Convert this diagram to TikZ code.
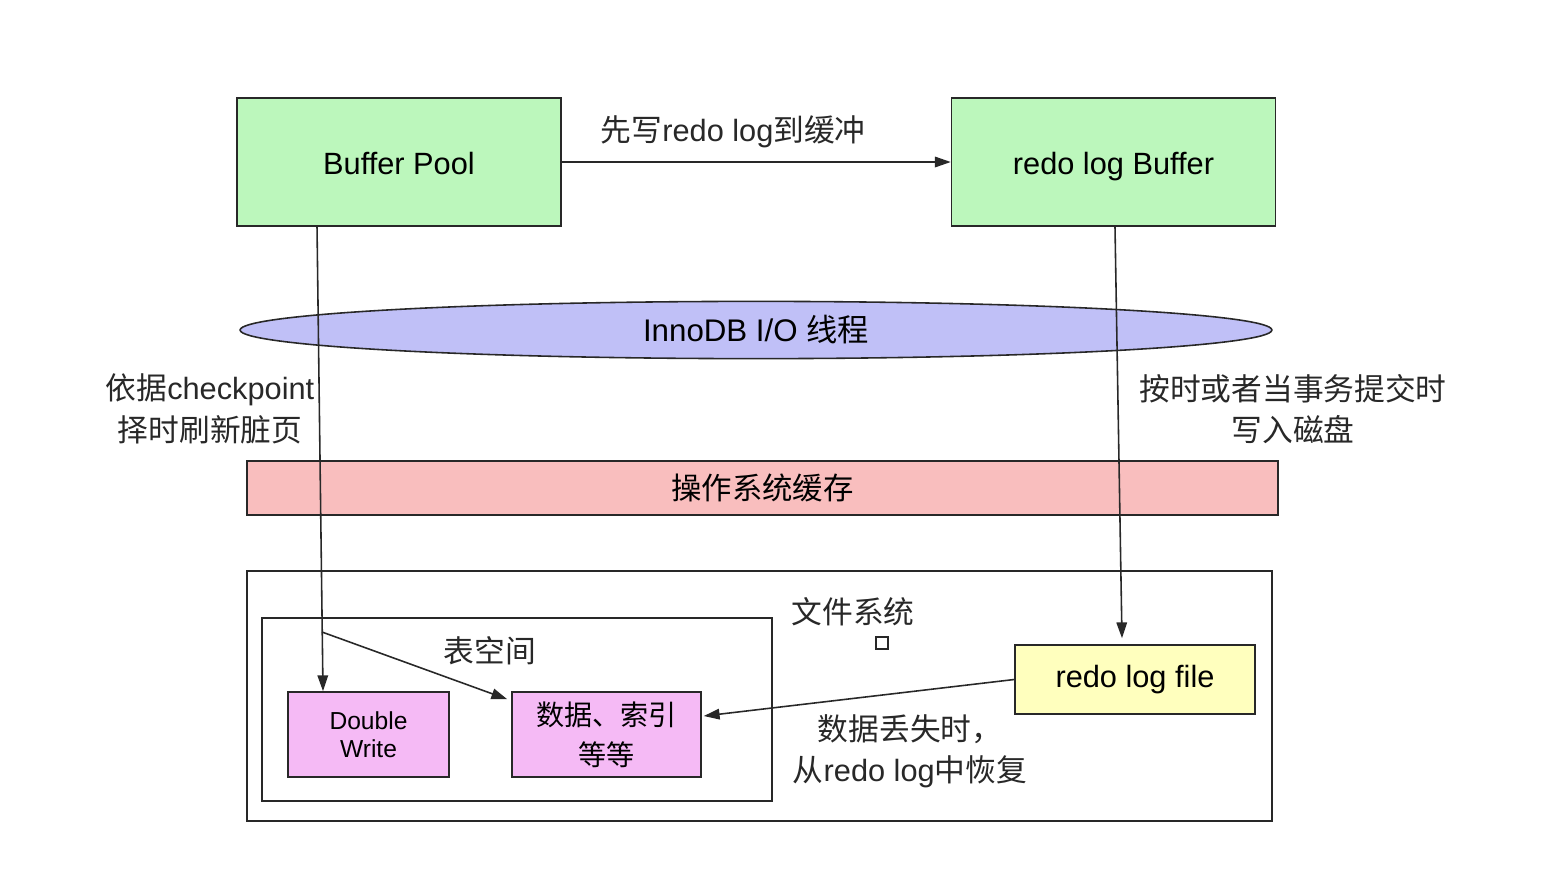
\documentclass[tikz,border=0pt]{standalone}
\usepackage{fontspec}
\setmainfont{Liberation Sans}
\newfontfamily\cjk{Noto Sans CJK SC}
\usepackage{xcolor}
\usetikzlibrary{positioning,arrows.meta,shapes.geometric}
\definecolor{poolgreen}{RGB}{188,247,188}
\definecolor{iolilac}{RGB}{192,192,247}
\definecolor{cachepink}{RGB}{249,190,190}
\definecolor{tspink}{RGB}{245,186,245}
\definecolor{fileyellow}{RGB}{255,255,190}
\definecolor{inkgray}{RGB}{40,40,40}
\tikzset{
  membox/.style={draw=inkgray, line width=0.9pt, fill=poolgreen, minimum width=6.48cm, minimum height=2.56cm, text height=14pt, text depth=0pt, font=\fontsize{17.5}{20}\selectfont},
  pagebox/.style={draw=inkgray, line width=0.9pt, fill=tspink, minimum height=1.7cm, align=center, font=\fontsize{14}{16}\selectfont},
  frame/.style={draw=inkgray, line width=0.9pt},
  lbl/.style={align=center, text=inkgray, font=\fontsize{17.5}{23.5}\selectfont},
  arr/.style={-{Triangle[length=9pt,width=6pt]}, line width=0.9pt, draw=inkgray},
}
\begin{document}
\begin{tikzpicture}[x=0.02cm, y=-0.02cm]
  \useasboundingbox (0,0) rectangle (1543,877);
  % memory side
  \node[membox] (bp) at (399,162) {Buffer Pool};
  \node[membox] (rlb) at (1113.5,162) {redo log Buffer};
  \draw[arr] (bp) -- (rlb) node[midway, above=4pt, xshift=-0.46cm, lbl] {{\cjk 先写}redo log{\cjk 到缓冲}};
  % threads and os cache
  \node[ellipse, frame, fill=iolilac, minimum width=20.64cm, minimum height=1.04cm, font=\fontsize{17.8}{20}\selectfont] (io) at (756,330) {InnoDB I/O {\cjk 线程}};
  \node[frame, fill=cachepink, minimum width=20.62cm, minimum height=1.08cm, font=\fontsize{17.3}{20}\selectfont\cjk] (oscache) at (762.5,488) {操作系统缓存};
  % file system
  \node[frame, minimum width=20.5cm, minimum height=5cm] (fs) at (759.5,696) {};
  \node[lbl] (fslbl) at (853,612) {\cjk 文件系统};
  \node[draw=inkgray, line width=0.7pt, minimum size=0.24cm, inner sep=0pt] (dot) at (882,643) {};
  \node[frame, minimum width=10.2cm, minimum height=3.66cm] (ts) at (517,709.5) {};
  \node[lbl] (tslbl) at (490,651) {\cjk 表空间};
  \node[pagebox, minimum width=3.22cm] (dw) at (368.5,734.5) {Double\\Write};
  \node[pagebox, minimum width=3.78cm, font=\fontsize{16}{23}\selectfont\cjk] (data) at (606.5,734.5) {{\cjk 数据、索引}\\{\cjk 等等}};
  \node[frame, fill=fileyellow, minimum width=4.8cm, minimum height=1.38cm, font=\fontsize{17.5}{20}\selectfont] (rlf) at (1135,679.5) {redo log file};
  % flushing
  \draw[arr] ([xshift=-1.64cm]bp.south) -- ([xshift=-0.91cm]dw.north);
  \coordinate (fork) at (322,632);
  \draw[arr] (fork) -- ([shift={(-0.08cm,-0.16cm)}]data.north west);
  \draw[arr] ([xshift=0.03cm]rlb.south) -- ([xshift=-0.26cm,yshift=0.12cm]rlf.north);
  \draw[arr] (rlf.west) -- ([xshift=0.04cm,yshift=0.37cm]data.east);
  \node[lbl] (ckpt) at (210,409) {{\cjk 依据}checkpoint\\{\cjk 择时刷新脏页}};
  \node[lbl] (commit) at (1293,409) {{\cjk 按时或者当事务提交时}\\{\cjk 写入磁盘}};
  \node[lbl] (recover) at (910,751) {{\cjk 数据丢失时，}\\{\cjk 从}redo log{\cjk 中恢复}};
\end{tikzpicture}
\end{document}
